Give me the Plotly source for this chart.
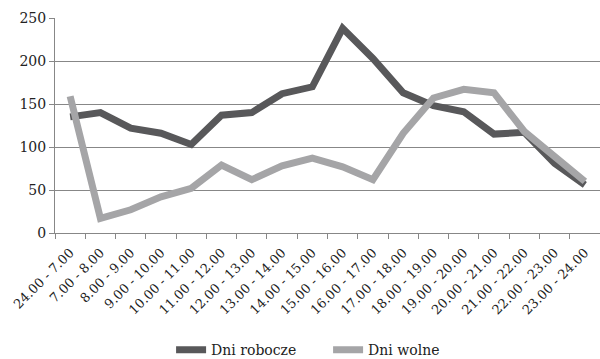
import plotly.graph_objects as go

# Hour ranges on the category axis
hours = [
    "24.00 - 7.00", "7.00 - 8.00", "8.00 - 9.00", "9.00 - 10.00",
    "10.00 - 11.00", "11.00 - 12.00", "12.00 - 13.00", "13.00 - 14.00",
    "14.00 - 15.00", "15.00 - 16.00", "16.00 - 17.00", "17.00 - 18.00",
    "18.00 - 19.00", "19.00 - 20.00", "20.00 - 21.00", "21.00 - 22.00",
    "22.00 - 23.00", "23.00 - 24.00",
]

# Counts per hour range
dni_robocze = [135, 140, 122, 116, 103, 137, 140, 162, 170, 238, 203, 163,
               148, 141, 115, 117, 81, 56]
dni_wolne = [159, 17, 27, 42, 52, 79, 62, 78, 87, 77, 62, 116,
             157, 167, 163, 118, 89, 60]

y_ticks = [0, 50, 100, 150, 200, 250]

DARK = "#58585a"
LIGHT = "#a5a5a7"
GRID = "#878787"
FONT = "DejaVu Serif"

fig = go.Figure()
fig.add_trace(go.Scatter(
    x=hours, y=dni_robocze, name="Dni robocze", mode="lines",
    line=dict(color=DARK, width=7),
))
fig.add_trace(go.Scatter(
    x=hours, y=dni_wolne, name="Dni wolne", mode="lines",
    line=dict(color=LIGHT, width=7),
))

fig.update_layout(
    width=600, height=359,
    margin=dict(l=55, r=0, t=18, b=126, autoexpand=False),
    paper_bgcolor="white", plot_bgcolor="white",
    font=dict(family=FONT, size=14, color="#222222"),
    showlegend=True,
    legend=dict(
        orientation="h", x=0.213, xanchor="left", y=-0.545, yanchor="middle",
        font=dict(family=FONT, size=14, color="#222222"),
        entrywidth=112, entrywidthmode="pixels",
        itemwidth=30, tracegroupgap=0,
    ),
    xaxis=dict(
        type="category", range=[-0.5, 17.5], tickangle=-45,
        ticks="outside", ticklen=5, tickcolor=GRID, tickson="boundaries",
        ticklabelstandoff=6,
        showline=True, linecolor=GRID, linewidth=1, automargin=False,
        showgrid=False, tickfont=dict(family=FONT, size=13),
    ),
    yaxis=dict(
        range=[0, 250], tickvals=y_ticks, automargin=False,
        ticks="outside", ticklen=5, tickcolor=GRID,
        showline=True, linecolor=GRID, linewidth=1,
        showgrid=True, gridcolor=GRID, gridwidth=1, zeroline=False,
        tickfont=dict(family=FONT, size=14),
    ),
)

fig.write_html("out.html")
